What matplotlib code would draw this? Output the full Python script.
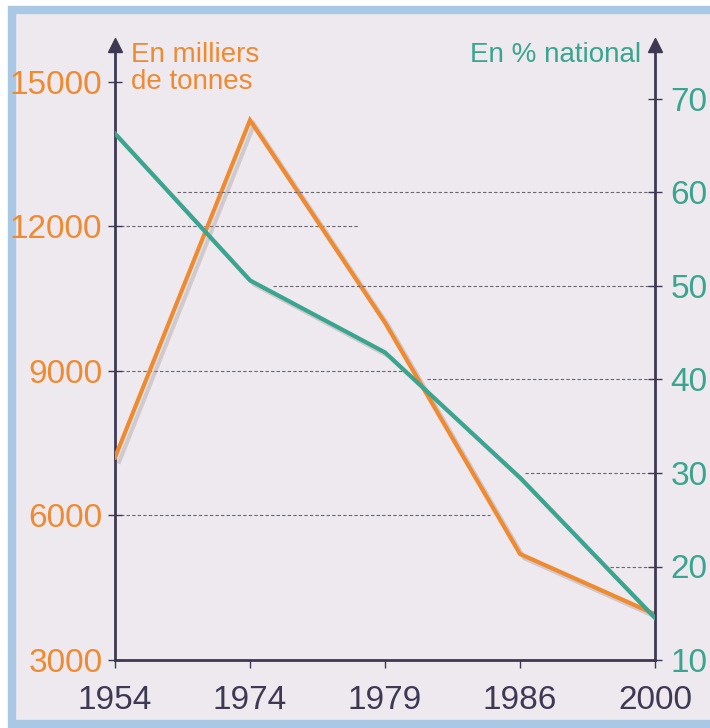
import numpy as np
import matplotlib
matplotlib.use("Agg")
import matplotlib.pyplot as plt
import matplotlib.patheffects as pe
from matplotlib.patches import Rectangle

years = ["1954", "1974", "1979", "1986", "2000"]
tonnes = [7200, 14200, 10000, 5200, 3950]      # en milliers de tonnes
pct_national = [66.3, 50.6, 42.9, 29.5, 14.5]  # en % national

left_ticks = [3000, 6000, 9000, 12000, 15000]
right_ticks = [10, 20, 30, 40, 50, 60, 70]

# partial dashed guide lines (value, x start, x end) in category units
left_guides = [(12000, 0, 1.81), (9000, 0, 2.15), (6000, 0, 2.78)]
right_guides = [(60, 0.46, 4), (50, 1.17, 4), (40, 2.31, 4), (30, 3.04, 4), (20, 3.67, 4)]

ORANGE = "#F08A30"
TEAL = "#3AA58E"
DARK = "#3F3852"
BG = "#EDE9EF"
narrow = ["Liberation Sans Narrow", "Liberation Sans", "DejaVu Sans"]

fig = plt.figure(figsize=(7.1, 7.28), dpi=100)
fig.patch.set_facecolor("white")
frame = Rectangle((12 / 710, 4 / 728), 1.2, 714 / 728, transform=fig.transFigure,
                  facecolor=BG, edgecolor="#A9C8E6", linewidth=6, zorder=-10)
fig.add_artist(frame)

ax = fig.add_axes([115 / 710, 68 / 728, 540 / 710, 615 / 728])
ax.set_facecolor("none")
ax2 = ax.twinx()
ax2.set_facecolor("none")

x = np.arange(len(years))
shadow = [pe.SimpleLineShadow(offset=(3, -3), shadow_color="#9a9090", alpha=0.35), pe.Normal()]

ax.plot(x, tonnes, color=ORANGE, lw=3, zorder=5, solid_joinstyle="miter", path_effects=shadow)
ax2.plot(x, pct_national, color=TEAL, lw=3, zorder=5, solid_joinstyle="miter", path_effects=shadow)

for v, a, b in left_guides:
    ax.hlines(v, a, b, colors="#6a6472", linestyles=(0, (3, 2)), lw=0.8, zorder=1)
for v, a, b in right_guides:
    ax2.hlines(v, a, b, colors="#6a6472", linestyles=(0, (3, 2)), lw=0.8, zorder=1)

ax.set_xlim(0, 4)
ax.set_ylim(3000, 3000 + 615 / 48.2 * 1000)
ax2.set_ylim(10, 10 + 615 / 9.35)

ax.set_xticks(x)
ax.set_xticklabels(years, fontsize=24, color=DARK, family=narrow)
ax.set_yticks(left_ticks)
ax.set_yticklabels([str(t) for t in left_ticks], fontsize=24, color=ORANGE, family=narrow)
ax2.set_yticks(right_ticks)
ax2.set_yticklabels([str(t) for t in right_ticks], fontsize=24, color=TEAL, family=narrow)

ax.tick_params(axis="y", direction="inout", length=10, width=1, color=DARK, pad=4)
ax.tick_params(axis="x", direction="out", length=6, width=1, color=DARK, pad=12)
ax2.tick_params(axis="y", direction="inout", length=10, width=1, color=DARK, pad=6)

for s in ["top", "right"]:
    ax.spines[s].set_visible(False)
for s in ["top", "left", "bottom"]:
    ax2.spines[s].set_visible(False)
ax.spines["left"].set_color(DARK)
ax.spines["left"].set_linewidth(2)
ax.spines["bottom"].set_color(DARK)
ax.spines["bottom"].set_linewidth(2)
ax2.spines["right"].set_color(DARK)
ax2.spines["right"].set_linewidth(2)

# arrow heads on the vertical axes
for xa in (0, 1):
    ax.plot([xa], [1.0], marker="^", markersize=10, color=DARK, transform=ax.transAxes,
            clip_on=False, zorder=6)

ax.text(0.03, 1.005, "En milliers\nde tonnes", transform=ax.transAxes, ha="left", va="top",
        fontsize=20, color=ORANGE, family=["Liberation Sans", "DejaVu Sans"], linespacing=1.05)
ax.text(0.975, 1.005, "En % national", transform=ax.transAxes, ha="right", va="top",
        fontsize=20, color=TEAL, family=["Liberation Sans", "DejaVu Sans"])

fig.savefig("out.png", dpi=100)
